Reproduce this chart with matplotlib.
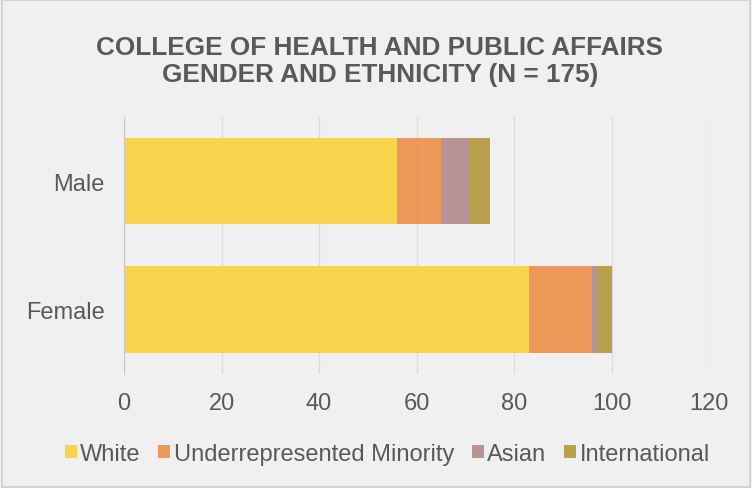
import matplotlib
matplotlib.use("Agg")
import matplotlib.pyplot as plt
from matplotlib.patches import Rectangle

categories = ["Female", "Male"]
series_names = ["White", "Underrepresented Minority", "Asian", "International"]
white = [83, 56]
urm = [13, 9]
asian = [1, 6]
international = [3, 4]
colors = ["#f9d449", "#ee9555", "#b59190", "#b79e47"]
xticks = [0, 20, 40, 60, 80, 100, 120]

plt.rcParams['font.family'] = ['Liberation Sans', 'DejaVu Sans']
bg = "#f0f0f0"
txt = "#595959"

fig = plt.figure(figsize=(7.52, 4.89), dpi=100, facecolor=bg)
ax = fig.add_axes([0.165, 0.233, 0.778, 0.526], facecolor=bg)

left = [0, 0]
for name, vals, c in zip(series_names, [white, urm, asian, international], colors):
    ax.barh(range(len(categories)), vals, left=left, height=0.674, color=c,
            label=name, zorder=2, alpha=0.97)
    left = [l + v for l, v in zip(left, vals)]

ax.set_xlim(0, 120)
ax.set_ylim(-0.5, 1.5)
ax.set_xticks(xticks)
ax.set_yticks(range(len(categories)))
ax.set_yticklabels(categories)
ax.tick_params(axis='both', length=0, labelsize=17, labelcolor=txt)
ax.tick_params(axis='x', pad=13)
ax.tick_params(axis='y', pad=14)
ax.grid(axis='x', color="#dcdcdc", linewidth=1, zorder=0)
for s in ["top", "right", "bottom"]:
    ax.spines[s].set_visible(False)
ax.spines["left"].set_color("#c8c8c8")
ax.spines["left"].set_zorder(3)

fig.text(0.505, 0.874, "COLLEGE OF HEALTH AND PUBLIC AFFAIRS\nGENDER AND ETHNICITY (N = 175)",
         ha='center', va='center', fontsize=18.8, fontweight='bold', color=txt,
         linespacing=1.15)

leg = fig.legend(loc='center', bbox_to_anchor=(0.515, 0.07), ncol=4, frameon=False,
                 fontsize=17, handlelength=0.5, handleheight=0.5, handletextpad=0.15,
                 columnspacing=0.75, labelcolor=txt)

fig.patches.append(Rectangle((0.002, 0.002), 0.996, 0.996, transform=fig.transFigure,
                             fill=False, edgecolor="#d0d0d0", linewidth=1.2))

fig.savefig("out.png", dpi=100, facecolor=bg)
